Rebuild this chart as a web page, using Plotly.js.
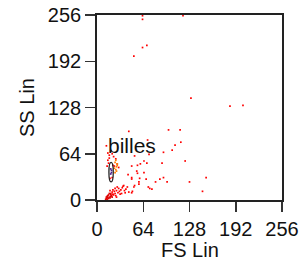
<!DOCTYPE html>
<html><head><meta charset="utf-8">
<script src="https://cdn.plot.ly/plotly-3.0.1.min.js"></script>
<style>html,body{margin:0;padding:0;background:#fff}#c{width:300px;height:259px}</style>
</head><body><div id="c"></div>
<script>
const tickVals = [0, 64, 128, 192, 256];
const tickText = ["0", "64", "128", "192", "256"];
const xTitle = "FS Lin";
const yTitle = "SS Lin";
const gateLabel = "billes";
const gateX = [16.5, 22.5];
const gateY = [25, 52];

const redX = [63,119,63,69,63,51,130,184,202,99,115,116,108,104,92,122,90,65,69,60,56,48,52,72,70,65,56,59,68,81,87,92,97,128,151,146,58,58,52,73,76,71,51,48,49,48,48,44,55,43,
  13,15,21,23,26,16,17,15,28,24,14,30,19,17,22,18,21,
  20,22,24,23,25,27,26,29,31,33,30,35,38,40,36,28,42,22,25,18,34,44,37,32,27,39,19,21];
const redY = [255,255,250,214,211,199,141,130,131,97,97,80,76,69,66,54,51,54,51,50,48,47,61,63,83,38,37,30,29,25,29,31,25,25,31,12,25,22,20,16,15,18,18,10,12,29,31,95,40,35,
  75,65,64,60,57,51,58,55,50,47,47,45,68,62,48,30,31,
  6,8,12,7,9,13,6,10,12,14,16,17,13,15,19,18,18,14,16,13,9,11,20,8,4,10,9,11];
const darkRedX = [12,13,14,15,13,16,17,15,18,19,14,16,20,17,19,21];
const darkRedY = [1,2,1,3,4,2,4,6,3,5,5,7,6,9,8,4];
const orangeX = [25,26,27,28,25,26,27,24,28];
const orangeY = [38,42,46,50,52,55,40,44,48];
const purpleX = [19,20,20,19];
const purpleY = [36,38,41,43];

const mk = (x, y, c) => ({x, y, type: 'scatter', mode: 'markers', hoverinfo: 'skip',
  marker: {symbol: 'square', size: 1.7, color: c, line: {width: 0}}});

const data = [
  mk(redX, redY, '#ff0000'),
  mk(darkRedX, darkRedY, '#e00000'),
  mk(orangeX, orangeY, '#ff7a00'),
  mk(purpleX, purpleY, '#4b1a8a')
];

const font = {family: 'Arial, "Liberation Sans", sans-serif', color: '#111'};
const axisBase = {
  range: [0, 256], tickvals: tickVals, ticktext: tickText, ticks: 'outside', ticklen: 10,
  tickwidth: 1.5, tickcolor: '#333', showgrid: false, zeroline: false,
  showline: true, linecolor: '#222', linewidth: 1.8, mirror: true, automargin: false,
  tickfont: Object.assign({size: 20}, font), fixedrange: true
};

const layout = {
  width: 300, height: 259, margin: {l: 97, r: 18, t: 15, b: 59},
  paper_bgcolor: '#fff', plot_bgcolor: '#fff', showlegend: false,
  xaxis: Object.assign({}, axisBase),
  yaxis: Object.assign({}, axisBase, {title: {text: yTitle, font: Object.assign({size: 20}, font), standoff: 8}}),
  shapes: [{type: 'circle', xref: 'x', yref: 'y', x0: gateX[0], x1: gateX[1], y0: gateY[0], y1: gateY[1],
    line: {color: '#222', width: 1.3}}],
  annotations: [
    {text: gateLabel, x: 12.5, y: 76, xref: 'x', yref: 'y', xanchor: 'left', yanchor: 'middle',
      showarrow: false, font: Object.assign({size: 21}, font)},
    {text: xTitle, x: 0.5, y: -0.268, xref: 'paper', yref: 'paper', xanchor: 'center', yanchor: 'middle',
      showarrow: false, borderpad: 0, font: Object.assign({size: 20}, font)}
  ]
};

Plotly.newPlot('c', data, layout, {staticPlot: true, displayModeBar: false});
</script></body></html>
